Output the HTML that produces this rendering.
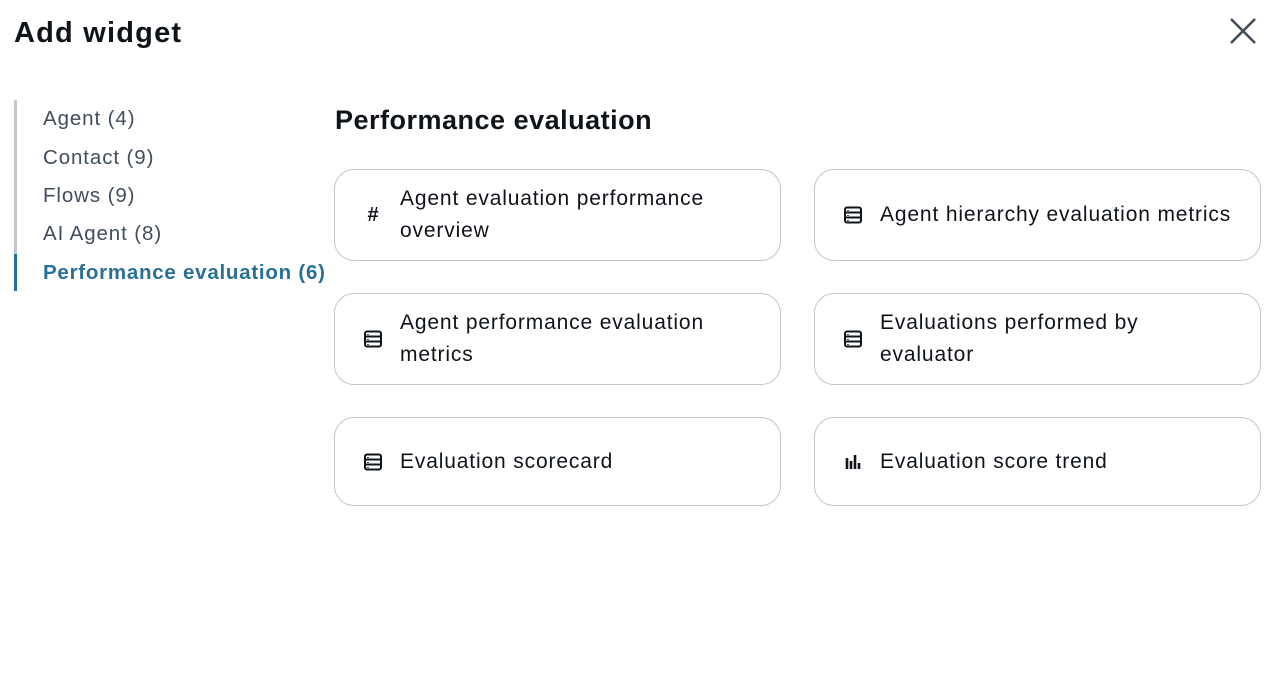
<!DOCTYPE html>
<html><head><style>
body{margin:0;width:1288px;height:686px;background:#fff;font-family:"Liberation Sans",Arial,sans-serif;color:#0f141a;position:relative;overflow:hidden}
.t{position:absolute;left:14px;top:17px;font-size:29px;font-weight:bold;letter-spacing:1.2px}
.x{position:absolute;left:1229px;top:17px}
.bar{position:absolute;left:14px;top:100px;width:3px;height:190px;background:#c6c6cd}
.act{position:absolute;left:14px;top:254px;width:3px;height:37px;background:#2a6f97}
.n{position:absolute;left:43px;font-size:20.5px;color:#414d5c;line-height:24px;letter-spacing:0.9px}
.h{position:absolute;left:335px;top:105px;font-size:27px;font-weight:bold;letter-spacing:0.5px}
.c{position:absolute;width:447px;border:1px solid #c6c6cd;border-radius:20px;box-sizing:border-box;display:flex;align-items:center}
.c .i{position:absolute;left:28px;top:50%;transform:translateY(-50%);width:20px;height:20px;display:flex;align-items:center;justify-content:center;font-size:20px}
.c .l{margin-left:65px;font-size:21px;line-height:32px;color:#0f141a;letter-spacing:0.85px}
</style></head><body>
<div class="t">Add widget</div>
<svg class="x" width="28" height="28" viewBox="0 0 28 28"><path d="M2 2L26 26M26 2L2 26" stroke="#414d5c" stroke-width="2.6"/></svg>
<div class="bar"></div><div class="act"></div>
<div class="n" style="top:107px">Agent (4)</div>
<div class="n" style="top:146px">Contact (9)</div>
<div class="n" style="top:184px">Flows (9)</div>
<div class="n" style="top:222px">AI Agent (8)</div>
<div class="n" style="top:261px;color:#2a6f97;font-weight:bold;letter-spacing:0.75px">Performance evaluation (6)</div>
<div class="h">Performance evaluation</div>
<svg width="0" height="0" style="position:absolute"><defs><symbol id="tb" viewBox="0 0 20 20"><rect x="2" y="2.5" width="16" height="15" rx="2" fill="none" stroke="#0f141a" stroke-width="2"/><path d="M2 7.5H18M2 12.5H18" stroke="#0f141a" stroke-width="2"/><path d="M5 5v1M5 10v1M5 15v1" stroke="#0f141a" stroke-width="1.5"/></symbol></defs></svg>
<div class="c" style="left:334px;top:169px;height:92px"><span class="i" style="font-weight:bold">#</span><span class="l">Agent evaluation performance<br>overview</span></div>
<div class="c" style="left:814px;top:169px;height:92px"><span class="i"><svg width="20" height="20"><use href="#tb"/></svg></span><span class="l">Agent hierarchy evaluation metrics</span></div>
<div class="c" style="left:334px;top:293px;height:92px"><span class="i"><svg width="20" height="20"><use href="#tb"/></svg></span><span class="l">Agent performance evaluation<br>metrics</span></div>
<div class="c" style="left:814px;top:293px;height:92px"><span class="i"><svg width="20" height="20"><use href="#tb"/></svg></span><span class="l">Evaluations performed by<br>evaluator</span></div>
<div class="c" style="left:334px;top:417px;height:89px"><span class="i"><svg width="20" height="20"><use href="#tb"/></svg></span><span class="l">Evaluation scorecard</span></div>
<div class="c" style="left:814px;top:417px;height:89px"><span class="i"><svg width="20" height="20" viewBox="0 0 20 20"><path d="M4 6v11M8 9v8M12 3v14M16 11v6" stroke="#0f141a" stroke-width="2.6"/></svg></span><span class="l">Evaluation score trend</span></div>
</body></html>
